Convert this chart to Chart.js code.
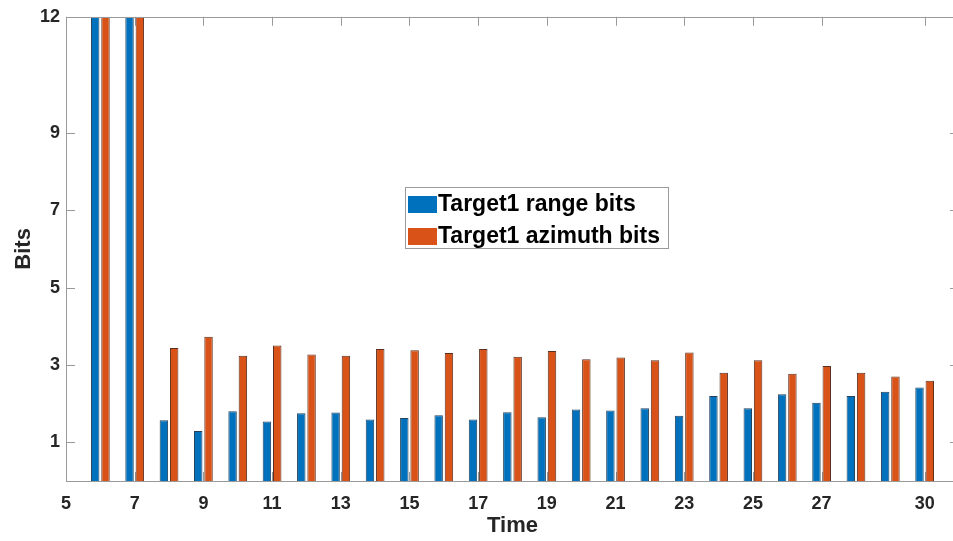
<!DOCTYPE html>
<html>
<head>
<meta charset="utf-8">
<script src="https://cdn.jsdelivr.net/npm/chart.js@4.4.1/dist/chart.umd.min.js"></script>
<style>
  html, body { margin: 0; padding: 0; background: #fff; overflow: hidden; }
  #wrap { position: relative; width: 965px; height: 541px; }
</style>
</head>
<body>
<div id="wrap"><canvas id="grafico"></canvas></div>
<script>
// valores
const tiempos = [6, 7, 8, 9, 10, 11, 12, 13, 14, 15, 16, 17, 18, 19, 20, 21, 22, 23, 24, 25, 26, 27, 28, 29, 30];
const bitsRango = [12, 12, 1.57, 1.29, 1.80, 1.54, 1.75, 1.77, 1.59, 1.63, 1.70, 1.59, 1.78, 1.65, 1.85, 1.82, 1.88, 1.69, 2.20, 1.88, 2.24, 2.02, 2.20, 2.31, 2.42];
const bitsAzimut = [12, 12, 3.44, 3.73, 3.24, 3.50, 3.27, 3.24, 3.41, 3.38, 3.31, 3.41, 3.21, 3.36, 3.15, 3.19, 3.12, 3.32, 2.80, 3.12, 2.77, 2.97, 2.80, 2.70, 2.59];
const ticksX = [5, 7, 9, 11, 13, 15, 17, 19, 21, 23, 25, 27, 30];
const ticksY = [1, 3, 5, 7, 9, 12];
const etiquetas = ['Target1 range bits', 'Target1 azimuth bits'];

const FUENTE = '"Liberation Sans", Arial, Helvetica, sans-serif';
const GRIS = '#9a9a9a';

const marco = {
    id: 'marco',
    beforeDatasetsDraw(chart) {
        const { ctx, chartArea: a, scales: { x, y } } = chart;
        ctx.save();
        ctx.strokeStyle = GRIS;
        ctx.lineWidth = 1;
        ctx.beginPath();
        ticksX.forEach(v => {
            const px = Math.round(x.getPixelForValue(v)) + 0.5;
            ctx.moveTo(px, a.bottom); ctx.lineTo(px, a.bottom - 9);
            ctx.moveTo(px, a.top); ctx.lineTo(px, a.top + 9);
        });
        ticksY.forEach(v => {
            const py = Math.round(y.getPixelForValue(v)) + 0.5;
            ctx.moveTo(a.left, py); ctx.lineTo(a.left + 9, py);
            ctx.moveTo(a.right, py); ctx.lineTo(a.right - 9, py);
        });
        ctx.stroke();
        ctx.restore();
    },
    afterDatasetsDraw(chart) {
        const { ctx, chartArea: a } = chart;
        ctx.save();
        ctx.strokeStyle = GRIS;
        ctx.lineWidth = 1;
        ctx.strokeRect(Math.round(a.left) + 0.5, Math.round(a.top) + 0.5,
            Math.round(a.right - a.left), Math.round(a.bottom - a.top));
        ctx.restore();
    }
};

const leyenda = {
    id: 'leyenda',
    afterDraw(chart) {
        const ctx = chart.ctx;
        const bx = 405.5, by = 187.5, bw = 263, bh = 61;
        ctx.save();
        ctx.fillStyle = '#fff';
        ctx.fillRect(bx, by, bw, bh);
        ctx.strokeStyle = GRIS;
        ctx.lineWidth = 1;
        ctx.strokeRect(bx, by, bw, bh);
        ctx.font = 'bold 23px ' + FUENTE;
        ctx.textBaseline = 'middle';
        chart.data.datasets.forEach((ds, i) => {
            const cy = 204 + i * 32;
            ctx.fillStyle = ds.backgroundColor;
            ctx.fillRect(408, cy - 8, 29, 17);
            ctx.fillStyle = '#000';
            ctx.fillText(ds.label, 438, cy + 1);
        });
        ctx.restore();
    }
};

const ctx = document.getElementById('grafico').getContext('2d');
new Chart(ctx, {
    type: 'bar',
    data: {
        datasets: [
            {
                label: etiquetas[0],
                data: tiempos.map((t, i) => ({ x: t, y: bitsRango[i] })),
                backgroundColor: '#0072BD',
                borderColor: '#24405a',
                borderWidth: 1
            },
            {
                label: etiquetas[1],
                data: tiempos.map((t, i) => ({ x: t, y: bitsAzimut[i] })),
                backgroundColor: '#D95319',
                borderColor: '#5a3020',
                borderWidth: 1
            }
        ]
    },
    options: {
        responsive: true,
        maintainAspectRatio: false,
        animation: false,
        categoryPercentage: 0.6,
        barPercentage: 0.82,
        layout: { padding: { top: 15, right: 6, left: 0, bottom: 0 } },
        scales: {
            x: {
                type: 'linear',
                min: 5,
                max: 31,
                offset: false,
                grid: { display: false, drawTicks: false },
                border: { display: false },
                afterBuildTicks: s => { s.ticks = ticksX.map(v => ({ value: v })); },
                afterFit: s => { s.height = 60; },
                ticks: {
                    autoSkip: false,
                    maxRotation: 0,
                    padding: 12,
                    color: '#262626',
                    font: { family: FUENTE, size: 18, weight: 'bold' }
                },
                title: {
                    display: true,
                    text: 'Time',
                    color: '#262626',
                    padding: { top: 0, bottom: 2 },
                    font: { family: FUENTE, size: 22, weight: 'bold' }
                }
            },
            y: {
                min: 0,
                max: 12,
                grid: { display: false, drawTicks: false },
                border: { display: false },
                afterBuildTicks: s => { s.ticks = ticksY.map(v => ({ value: v })); },
                afterFit: s => { s.width = 66; },
                ticks: {
                    padding: 6,
                    color: '#262626',
                    font: { family: FUENTE, size: 18, weight: 'bold' }
                },
                title: {
                    display: true,
                    text: 'Bits',
                    color: '#262626',
                    padding: { top: 11, bottom: 0 },
                    font: { family: FUENTE, size: 22, weight: 'bold' }
                }
            }
        },
        plugins: {
            legend: { display: false },
            tooltip: { enabled: false }
        }
    },
    plugins: [marco, leyenda]
});
</script>
</body>
</html>
